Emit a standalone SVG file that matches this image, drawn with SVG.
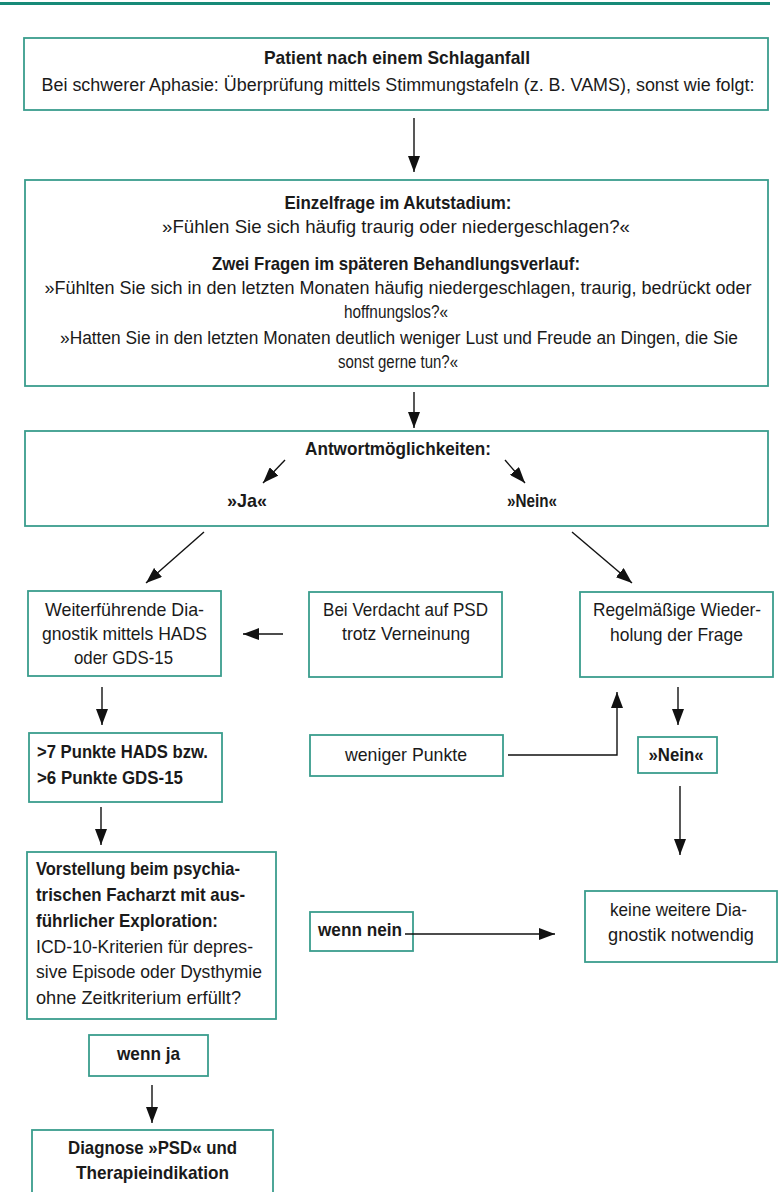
<svg xmlns="http://www.w3.org/2000/svg" width="780" height="1192" viewBox="0 0 780 1192">
<defs>
<style>
.box{fill:#fff;stroke:#3a9d8d;stroke-width:1.8}
.t{font-family:"Liberation Sans",Arial,sans-serif;font-size:19px;fill:#1a1a1a}
.s{font-size:17.5px}
.b{font-weight:bold}
.c{text-anchor:middle}
.conn{stroke:#111;stroke-width:1.4;fill:none;marker-end:url(#ah)}
</style>
<marker id="ah" viewBox="0 0 16 12" refX="16" refY="6" markerWidth="16" markerHeight="12" markerUnits="userSpaceOnUse" orient="auto">
<path d="M0,0 L16,6 L0,12 z" fill="#111"/>
</marker>
</defs>
<rect x="0" y="0" width="780" height="1192" fill="#fff"/>
<rect x="0" y="2" width="770" height="3" fill="#178a78"/>

<g id="n1">
<rect class="box" x="24" y="38" width="744" height="72"/>
<text class="t b c" x="397" y="64" textLength="266" lengthAdjust="spacingAndGlyphs">Patient nach einem Schlaganfall</text>
<text class="t s c" x="398" y="91" textLength="713" lengthAdjust="spacingAndGlyphs">Bei schwerer Aphasie: Überprüfung mittels Stimmungstafeln (z. B. VAMS), sonst wie folgt:</text>
</g>

<g id="n2">
<rect class="box" x="25" y="180" width="743" height="206"/>
<text class="t b c" x="398" y="209" textLength="227" lengthAdjust="spacingAndGlyphs">Einzelfrage im Akutstadium:</text>
<text class="t c" x="396" y="233" textLength="468" lengthAdjust="spacingAndGlyphs">»Fühlen Sie sich häufig traurig oder niedergeschlagen?«</text>
<text class="t b c" x="396" y="270" textLength="368" lengthAdjust="spacingAndGlyphs">Zwei Fragen im späteren Behandlungsverlauf:</text>
<text class="t s c" x="398" y="294" textLength="707" lengthAdjust="spacingAndGlyphs">»Fühlten Sie sich in den letzten Monaten häufig niedergeschlagen, traurig, bedrückt oder</text>
<text class="t c" x="396" y="318" textLength="104" lengthAdjust="spacingAndGlyphs">hoffnungslos?«</text>
<text class="t s c" x="399" y="344" textLength="678" lengthAdjust="spacingAndGlyphs">»Hatten Sie in den letzten Monaten deutlich weniger Lust und Freude an Dingen, die Sie</text>
<text class="t c" x="398" y="368" textLength="120" lengthAdjust="spacingAndGlyphs">sonst gerne tun?«</text>
</g>

<g id="n3">
<rect class="box" x="25" y="431" width="743" height="95"/>
<text class="t b c" x="398" y="455" textLength="186" lengthAdjust="spacingAndGlyphs">Antwortmöglichkeiten:</text>
<text class="t b c" x="247" y="507" textLength="40" lengthAdjust="spacingAndGlyphs">»Ja«</text>
<text class="t b c" x="532" y="507" textLength="50" lengthAdjust="spacingAndGlyphs">»Nein«</text>
</g>

<g id="n4">
<rect class="box" x="28" y="591" width="193" height="85"/>
<text class="t c" x="124.5" y="616" textLength="159" lengthAdjust="spacingAndGlyphs">Weiterführende Dia-</text>
<text class="t c" x="124.5" y="640" textLength="165" lengthAdjust="spacingAndGlyphs">gnostik mittels HADS</text>
<text class="t c" x="123.5" y="664" textLength="99" lengthAdjust="spacingAndGlyphs">oder GDS-15</text>
</g>

<g id="n5">
<rect class="box" x="309" y="592" width="193" height="85"/>
<text class="t c" x="405.5" y="616" textLength="165" lengthAdjust="spacingAndGlyphs">Bei Verdacht auf PSD</text>
<text class="t c" x="406" y="640" textLength="128" lengthAdjust="spacingAndGlyphs">trotz Verneinung</text>
</g>

<g id="n6">
<rect class="box" x="580" y="592" width="193" height="85"/>
<text class="t c" x="677" y="616" textLength="168" lengthAdjust="spacingAndGlyphs">Regelmäßige Wieder-</text>
<text class="t c" x="676.5" y="641" textLength="133" lengthAdjust="spacingAndGlyphs">holung der Frage</text>
</g>

<g id="n7">
<rect class="box" x="29" y="733" width="193" height="69"/>
<text class="t b" x="37" y="758" textLength="171" lengthAdjust="spacingAndGlyphs">&gt;7 Punkte HADS bzw.</text>
<text class="t b" x="37" y="784" textLength="146" lengthAdjust="spacingAndGlyphs">&gt;6 Punkte GDS-15</text>
</g>

<g id="n8">
<rect class="box" x="310" y="735" width="193" height="41"/>
<text class="t c" x="406" y="761" textLength="122" lengthAdjust="spacingAndGlyphs">weniger Punkte</text>
</g>

<g id="n9">
<rect class="box" x="638" y="737" width="79" height="36"/>
<text class="t b c" x="676" y="761" textLength="55" lengthAdjust="spacingAndGlyphs">»Nein«</text>
</g>

<g id="n10">
<rect class="box" x="27" y="852" width="249" height="167"/>
<text class="t b" x="36" y="875" textLength="204" lengthAdjust="spacingAndGlyphs">Vorstellung beim psychia-</text>
<text class="t b" x="36" y="901" textLength="209" lengthAdjust="spacingAndGlyphs">trischen Facharzt mit aus-</text>
<text class="t b" x="36" y="927" textLength="182" lengthAdjust="spacingAndGlyphs">führlicher Exploration:</text>
<text class="t" x="36" y="953" textLength="217" lengthAdjust="spacingAndGlyphs">ICD-10-Kriterien für depres-</text>
<text class="t" x="36" y="978" textLength="226" lengthAdjust="spacingAndGlyphs">sive Episode oder Dysthymie</text>
<text class="t" x="36" y="1004" textLength="205" lengthAdjust="spacingAndGlyphs">ohne Zeitkriterium erfüllt?</text>
</g>

<g id="n11">
<rect class="box" x="310" y="912" width="103" height="39"/>
<text class="t b" x="318" y="936" textLength="84" lengthAdjust="spacingAndGlyphs">wenn nein</text>
</g>

<g id="n12">
<rect class="box" x="585" y="891" width="192" height="71"/>
<text class="t c" x="678.5" y="916" textLength="137" lengthAdjust="spacingAndGlyphs">keine weitere Dia-</text>
<text class="t c" x="681" y="941" textLength="146" lengthAdjust="spacingAndGlyphs">gnostik notwendig</text>
</g>

<g id="n13">
<rect class="box" x="89" y="1035" width="119" height="41"/>
<text class="t b c" x="148.5" y="1060" textLength="63" lengthAdjust="spacingAndGlyphs">wenn ja</text>
</g>

<g id="n14">
<rect class="box" x="32" y="1130" width="241" height="80"/>
<text class="t b c" x="152.5" y="1154" textLength="169" lengthAdjust="spacingAndGlyphs">Diagnose »PSD« und</text>
<text class="t b c" x="152.5" y="1179" textLength="153" lengthAdjust="spacingAndGlyphs">Therapieindikation</text>
</g>

<g id="connectors">
<path class="conn" d="M414 118 V172"/>
<path class="conn" d="M414 392 V428"/>
<path class="conn" d="M285 460 L263 483"/>
<path class="conn" d="M505 460 L525 483"/>
<path class="conn" d="M204 532 L146 583"/>
<path class="conn" d="M572 532 L632 583"/>
<path class="conn" d="M283 634 H243"/>
<path class="conn" d="M102 687 V725"/>
<path class="conn" d="M678 687 V725"/>
<path class="conn" d="M508 755 H617 V692"/>
<path class="conn" d="M101 807 V845"/>
<path class="conn" d="M680 786 V855"/>
<path class="conn" d="M405 934 H555"/>
<path class="conn" d="M152 1085 V1123"/>
</g>
</svg>
